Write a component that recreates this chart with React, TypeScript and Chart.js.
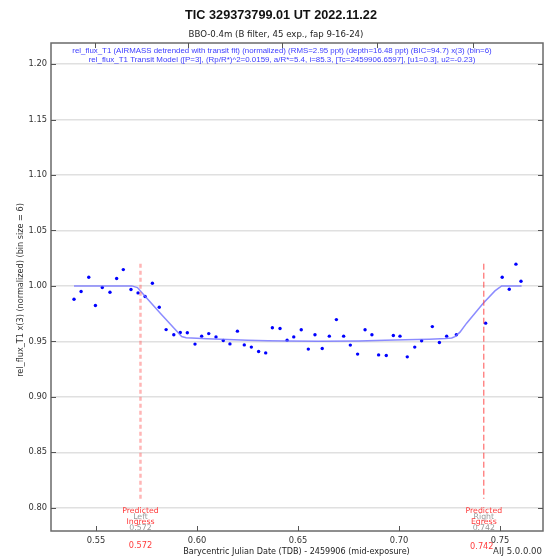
import React, { useEffect, useRef } from "react";
import { Chart, registerables } from "chart.js";

Chart.register(...registerables);

// ---- data ----
const binX = [
  0.5391, 0.5426, 0.5464, 0.5497, 0.5531, 0.5569, 0.5602, 0.5635, 0.5673, 0.5708, 0.5743, 0.5779, 0.5813, 0.5847, 0.5885,
  0.5917, 0.5952, 0.599, 0.6023, 0.6058, 0.6094, 0.613, 0.6163, 0.62, 0.6234, 0.6269, 0.6305, 0.634, 0.6373, 0.6411, 0.6446, 0.6479,
  0.6516, 0.6551, 0.6584, 0.662, 0.6655, 0.669, 0.6726, 0.6759, 0.6795, 0.6832, 0.6866, 0.6899, 0.6937, 0.6972, 0.7005, 0.7041,
  0.7078, 0.7112, 0.7165, 0.72, 0.7236, 0.7284, 0.7429, 0.7511, 0.7546, 0.7579, 0.7604,
];
const binY = [
  0.988, 0.995, 1.0078, 0.9823, 0.9985, 0.9943, 1.0066, 1.0147, 0.9967, 0.9937, 0.9904, 1.0024, 0.9808, 0.9606, 0.9559,
  0.958, 0.9577, 0.9475, 0.9547, 0.957, 0.954, 0.9507, 0.9477, 0.9592, 0.9468, 0.9448, 0.9408, 0.9396, 0.9622, 0.9616, 0.9511, 0.954,
  0.9604, 0.943, 0.9559, 0.9435, 0.9547, 0.9696, 0.9547, 0.9466, 0.9385, 0.9604, 0.9559, 0.9378, 0.9372, 0.9553, 0.9547, 0.936,
  0.9448, 0.9505, 0.9633, 0.949, 0.9547, 0.9559, 0.9664, 1.0078, 0.997, 1.0196, 1.0042,
];
const modelX = [
  0.5391, 0.5677, 0.5705, 0.5734, 0.5817, 0.5891, 0.5924, 0.5946,
  0.605, 0.615, 0.625, 0.635, 0.645, 0.66, 0.68, 0.693, 0.703, 0.715, 0.723, 0.7261,
  0.7277, 0.7302, 0.7335, 0.7417, 0.7475, 0.75, 0.7508, 0.7607,
];
const modelY = [
  1.0, 1.0, 0.9985, 0.9925, 0.9756, 0.9609, 0.9543, 0.9532,
  0.9523, 0.9517, 0.9511, 0.9505, 0.9503, 0.95, 0.9503, 0.9509, 0.9515, 0.952, 0.9525, 0.953,
  0.9543, 0.9583, 0.9664, 0.9844, 0.9955, 0.9988, 1.0, 1.0,
];
const xTicks = [0.55, 0.6, 0.65, 0.7, 0.75];
const yTicks = [0.8, 0.85, 0.9, 0.95, 1.0, 1.05, 1.1, 1.15, 1.2];
const topTicks = [0.5495, 0.5955, 0.6419, 0.689, 0.7366];
const ingressX = 0.572;
const egressX = 0.742;
const markerTop = 1.02;
const markerBottom = 0.808;

const titleText = "TIC 329373799.01 UT 2022.11.22";
const subtitleText = "BBO-0.4m (B filter, 45 exp., fap 9-16-24)";
const legend1 = "rel_flux_T1 (AIRMASS detrended with transit fit) (normalized) (RMS=2.95 ppt) (depth=16.48 ppt) (BIC=94.7) x(3) (bin=6)";
const legend2 = "rel_flux_T1 Transit Model ([P=3], (Rp/R*)^2=0.0159, a/R*=5.4, i=85.3, [Tc=2459906.6597], [u1=0.3], u2=-0.23)";
const xTitle = "Barycentric Julian Date (TDB) - 2459906 (mid-exposure)";
const yTitle = "rel_flux_T1 x(3) (normalized) (bin size = 6)";
const versionText = "AIJ 5.0.0.00";

const FAM = '"DejaVu Sans", sans-serif';
const FAM2 = '"Liberation Sans", Arial, sans-serif';

function fitText(ctx: CanvasRenderingContext2D, text: string, x: number, y: number, width: number, weight: string, color: string, align: CanvasTextAlign = "center", rotate = false, fam = FAM) {
  ctx.save();
  ctx.font = `${weight} 10px ${fam}`;
  const w = ctx.measureText(text).width;
  const size = (10 * width) / w;
  ctx.font = `${weight} ${size}px ${fam}`;
  ctx.fillStyle = color;
  ctx.textAlign = align;
  ctx.textBaseline = "middle";
  ctx.translate(x, y);
  if (rotate) ctx.rotate(-Math.PI / 2);
  ctx.fillText(text, 0, 0);
  ctx.restore();
}

function plainText(ctx: CanvasRenderingContext2D, text: string, x: number, y: number, size: number, color: string, align: CanvasTextAlign = "center") {
  ctx.save();
  ctx.font = `${size}px ${FAM}`;
  ctx.fillStyle = color;
  ctx.textAlign = align;
  ctx.textBaseline = "middle";
  ctx.fillText(text, x, y);
  ctx.restore();
}

const overlay = {
  id: "overlay",
  afterDraw(chart: any) {
    const { ctx, chartArea: a, scales } = chart;
    const xs = scales.x;
    const ys = scales.y;
    ctx.save();
    ctx.strokeStyle = "#6a6a6a";
    ctx.lineWidth = 1.5;
    ctx.strokeRect(a.left, a.top, a.right - a.left, a.bottom - a.top);
    ctx.strokeStyle = "#555";
    ctx.lineWidth = 1;
    ctx.beginPath();
    for (const v of yTicks) {
      const py = Math.round(ys.getPixelForValue(v)) + 0.5;
      ctx.moveTo(a.left, py);
      ctx.lineTo(a.left + 5, py);
      ctx.moveTo(a.right, py);
      ctx.lineTo(a.right - 5, py);
    }
    for (const v of xTicks) {
      const px = Math.round(xs.getPixelForValue(v)) + 0.5;
      ctx.moveTo(px, a.bottom);
      ctx.lineTo(px, a.bottom - 5);
    }
    for (const v of topTicks) {
      const px = Math.round(xs.getPixelForValue(v)) + 0.5;
      ctx.moveTo(px, a.top);
      ctx.lineTo(px, a.top + 5);
    }
    ctx.stroke();
    ctx.restore();

    fitText(ctx, titleText, 281, 15, 192, "bold", "#111", "center", false, FAM2);
    fitText(ctx, subtitleText, 276, 34.5, 175, "normal", "#222");
    fitText(ctx, legend1, 282, 50.7, 420, "normal", "#3c3cff", "center", false, FAM2);
    fitText(ctx, legend2, 282, 60.3, 387, "normal", "#3c3cff", "center", false, FAM2);
    fitText(ctx, xTitle, 296.5, 552, 227, "normal", "#222");
    fitText(ctx, yTitle, 21, 290, 174, "normal", "#333", "center", true);
    fitText(ctx, versionText, 542, 552, 49, "normal", "#333", "right");

    const ix = xs.getPixelForValue(ingressX);
    const ex = xs.getPixelForValue(egressX);
    const red = "#ff3b3b";
    const gray = "#9a9a9a";
    plainText(ctx, "Left", ix, 516.7, 7.8, gray);
    plainText(ctx, String(ingressX), ix, 528, 7.8, gray);
    plainText(ctx, "Predicted", ix, 510.7, 7.8, red);
    plainText(ctx, "Ingress", ix, 522, 7.8, red);
    plainText(ctx, "Right", ex, 516.7, 7.8, gray);
    plainText(ctx, String(egressX), ex, 528, 7.8, gray);
    plainText(ctx, "Predicted", ex, 510.7, 7.8, red);
    plainText(ctx, "Egress", ex, 522, 7.8, red);
    plainText(ctx, String(ingressX), ix, 546, 8.2, red);
    plainText(ctx, String(egressX), ex - 2, 546.5, 8.2, red);
  },
};

export default function App() {
  const ref = useRef<HTMLCanvasElement | null>(null);
  useEffect(() => {
    if (!ref.current) return;
    const chart = new Chart(ref.current, {
      type: "scatter",
      data: {
        datasets: [
          {
            label: "ingress",
            data: [
              { x: ingressX, y: markerTop },
              { x: ingressX, y: markerBottom },
            ],
            showLine: true,
            borderColor: "rgba(255,90,90,0.45)",
            borderWidth: 2.5,
            borderDash: [4, 3],
            pointRadius: 0,
          },
          {
            label: "egress",
            data: [
              { x: egressX, y: markerTop },
              { x: egressX, y: markerBottom },
            ],
            showLine: true,
            borderColor: "rgba(255,60,60,0.9)",
            borderWidth: 1,
            borderDash: [6, 3],
            pointRadius: 0,
          },
          {
            label: "model",
            data: modelX.map((x, i) => ({ x, y: modelY[i] })),
            showLine: true,
            borderColor: "rgba(110,110,255,0.8)",
            borderWidth: 1.5,
            pointRadius: 0,
          },
          {
            label: "data",
            data: binX.map((x, i) => ({ x, y: binY[i] })),
            showLine: false,
            pointRadius: 1.7,
            pointBackgroundColor: "#0000ff",
            pointBorderWidth: 0,
          },
        ],
      },
      options: {
        animation: false,
        responsive: false,
        layout: { padding: { top: 43, right: 10, left: 0, bottom: 0 } },
        plugins: { legend: { display: false }, tooltip: { enabled: false }, title: { display: false } },
        scales: {
          x: {
            type: "linear",
            min: 0.5277,
            max: 0.7713,
            grid: { display: false, drawTicks: false },
            border: { display: false },
            ticks: {
              padding: 5,
              color: "#333",
              font: { family: FAM, size: 8.3 },
              callback: (v: any) => Number(v).toFixed(2),
            },
            afterBuildTicks: (s: any) => {
              s.ticks = xTicks.map((v) => ({ value: v }));
            },
            afterFit: (s: any) => {
              s.height = 26;
            },
          },
          y: {
            type: "linear",
            min: 0.779,
            max: 1.219,
            grid: { color: "#e0e0e0", lineWidth: 1.5, drawTicks: false },
            border: { display: false },
            ticks: {
              padding: 4,
              color: "#333",
              font: { family: FAM, size: 8.3 },
              callback: (v: any) => Number(v).toFixed(2),
            },
            afterBuildTicks: (s: any) => {
              s.ticks = yTicks.map((v) => ({ value: v }));
            },
            afterFit: (s: any) => {
              s.width = 51;
            },
          },
        },
      },
      plugins: [overlay],
    } as any);
    return () => chart.destroy();
  }, []);
  return (
    <div style={{ position: "fixed", left: 0, top: 0, width: 553, height: 557, background: "#fff" }}>
      <canvas ref={ref} width={553} height={557} style={{ display: "block" }} />
    </div>
  );
}
